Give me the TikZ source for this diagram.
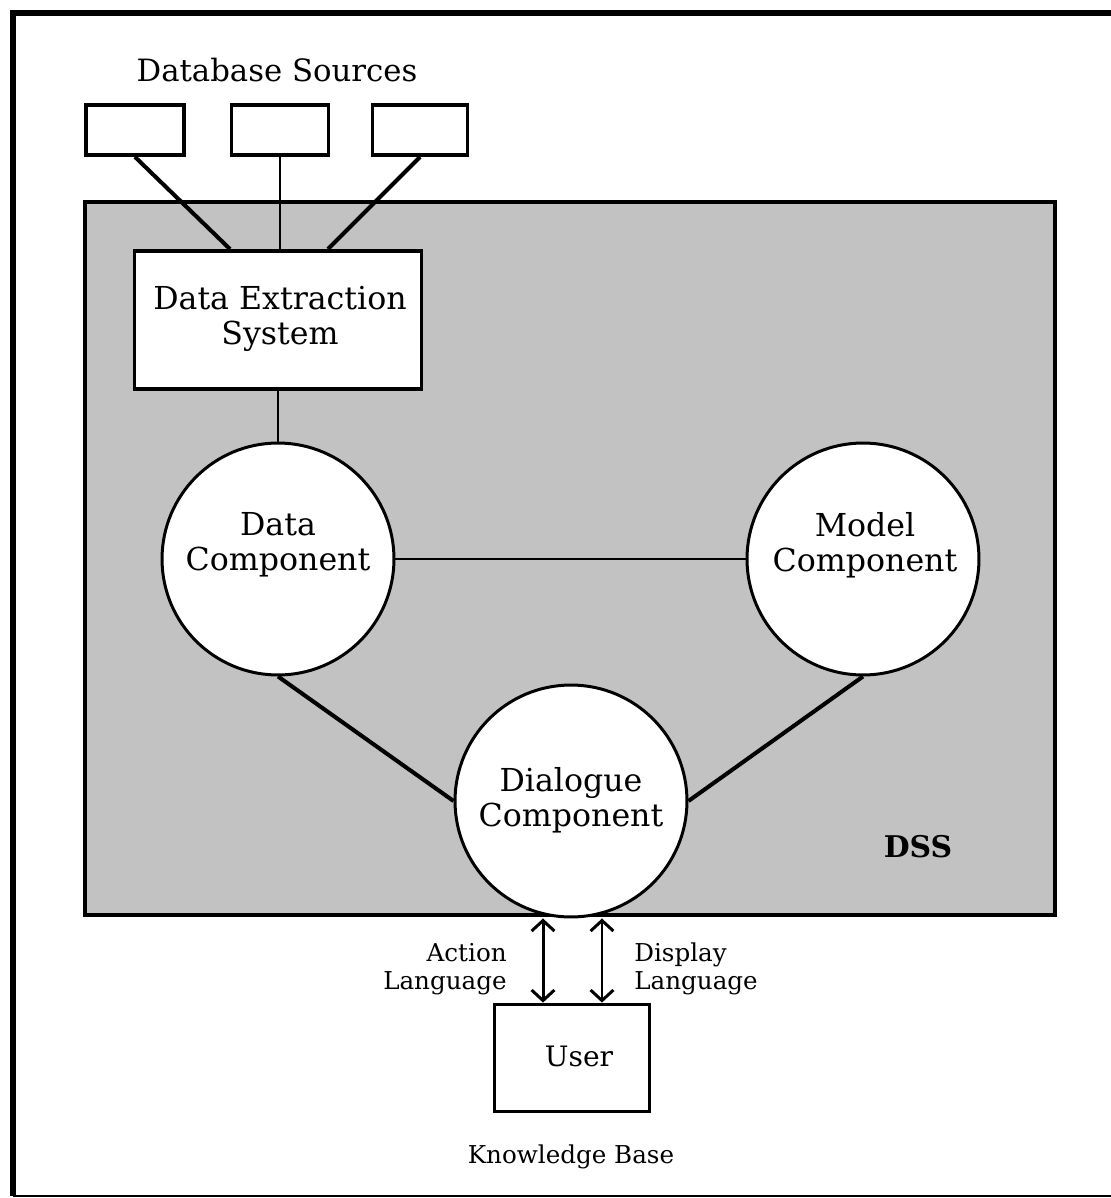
\documentclass[tikz,border=0pt]{standalone}
\usepackage{fontspec}
\setmainfont{DejaVu Serif}
\usetikzlibrary{arrows.meta,calc}
\begin{document}
\begin{tikzpicture}[x=0.02cm,y=-0.02cm,
  box/.style={draw,line width=2.2pt,fill=white,inner sep=0pt},
  circ/.style={draw,circle,line width=1.7pt,fill=white,minimum size=4.64cm,inner sep=0pt},
  big/.style={font=\fontsize{18}{20}\selectfont,align=center,inner sep=0pt},
  small/.style={font=\fontsize{14}{16}\selectfont,inner sep=0pt},
  thicklink/.style={line width=2.3pt},
  thinlink/.style={line width=1.2pt},
  dbl/.style={{Straight Barb[length=6pt,width=13pt]}-{Straight Barb[length=6pt,width=13pt]},line width=1.7pt}
]
\useasboundingbox (0,0) rectangle (1111,1198);
% outer frame
\draw[line width=3pt] (1111,13) -- (13,13) -- (13,1196);
\draw[line width=1.2pt] (13,1196) -- (1111,1196);
% DSS region
\node[draw,line width=2.3pt,fill=black!24,minimum width=19.4cm,minimum height=14.26cm,inner sep=0pt] (dss) at (570,558.5) {};
\node[font=\fontsize{17}{20}\selectfont\bfseries,inner sep=0pt] (dsslabel) at (918,847) {DSS};
% database sources
\node[font=\fontsize{17.5}{20}\selectfont,inner sep=0pt] (dbtitle) at (277,70) {Database Sources};
\node[box,minimum width=1.96cm,minimum height=1.0cm] (db1) at (135,130) {};
\node[box,minimum width=1.94cm,minimum height=1.0cm] (db2) at (280,130) {};
\node[box,minimum width=1.90cm,minimum height=1.0cm] (db3) at (420,130) {};
% data extraction system
\node[box,minimum width=5.74cm,minimum height=2.76cm] (des) at (278,320) {};
\node[big] (destext) at (280,319) {Data Extraction\\System};
% components
\node[circ] (data) at (278,559) {};
\node[big] (datatext) at (278,545) {Data\\Component};
\node[circ] (model) at (863,559) {};
\node[big] (modeltext) at (865,545) {Model\\Component};
\node[circ] (dlg) at (571,801) {};
\node[big] (dlgtext) at (571,800) {Dialogue\\Component};
% user
\node[box,minimum width=3.1cm,minimum height=2.14cm] (user) at (572,1058) {};
\node[font=\fontsize{16}{20}\selectfont,inner sep=0pt] (usertext) at (579,1056) {User};
\node[small] (kb) at (571,1157) {Knowledge Base};
% connectors
\draw[thicklink] (db1.south) -- ([xshift=-0.96cm]des.north);
\draw[thinlink] (db2.south) -- (db2.south |- des.north);
\draw[thicklink] (db3.south) -- ([xshift=1.0cm]des.north);
\draw[thinlink] (des.south) -- (data.north);
\draw[thinlink] (data) -- (model);
\draw[thicklink] (data.south) -- (dlg.west);
\draw[thicklink] (model.south) -- (dlg.east);
% languages
\coordinate (al) at ([xshift=-0.58cm]user.north);
\coordinate (dl) at ([xshift=0.60cm]user.north);
\draw[dbl] (al |- dlg.south) -- (al);
\draw[dbl] (dl |- dlg.south) -- (dl);
\node[small,anchor=east,align=right] (action) at (507,969) {Action\\Language};
\node[small,anchor=west,align=left] (display) at (634,969) {Display\\Language};
\end{tikzpicture}
\end{document}
